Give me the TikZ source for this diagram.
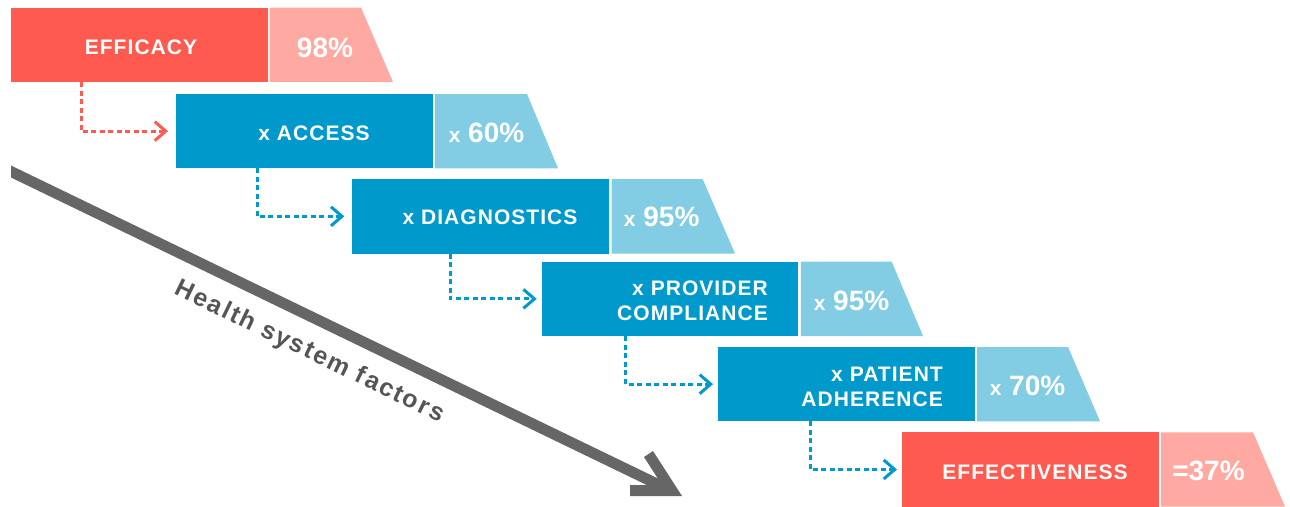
\documentclass[tikz,border=0pt]{standalone}
\usepackage{fontspec}
\setmainfont{Liberation Sans}
\newfontfamily\lblfont{Liberation Sans}[LetterSpace=5]
\newfontfamily\pctfont{Liberation Sans}
\newfontfamily\hsfont{Liberation Sans}[LetterSpace=8]
\usetikzlibrary{arrows.meta}
\definecolor{cred}{HTML}{FF5A4F}
\definecolor{cpink}{HTML}{FFA9A3}
\definecolor{cblue}{HTML}{0099CC}
\definecolor{clblue}{HTML}{82CCE4}
\definecolor{cgray}{HTML}{666666}
\definecolor{ctext}{HTML}{555555}
\tikzset{
  box/.style={anchor=north west, minimum width=256.5pt, minimum height=74.3pt, inner sep=0pt, outer sep=0pt},
  redbox/.style={box, fill=cred},
  bluebox/.style={box, fill=cblue},
  lbl/.style={text=white, font=\lblfont\bfseries\fontsize{21}{25}\selectfont, inner sep=0pt},
  pct/.style={text=white, font=\pctfont\bfseries\fontsize{28}{28}\selectfont, inner sep=0pt},
  flow/.style={dash pattern=on 5pt off 3.5pt, line width=3pt, -{Straight Barb[length=11pt,width=19pt]}},
}
\newcommand{\smx}{{\fontsize{21}{21}\selectfont x}}
\begin{document}
\begin{tikzpicture}[x=1pt,y=-1pt]
\useasboundingbox (0,0) rectangle (1290,506);
% big gray arrow
\fill[cgray] (11,165.5) -- (662,480.4) -- (662,492.4) -- (11,177.5) -- cycle;
\fill[cgray] (682,496) -- (630,496) -- (630,485) -- (662,485) -- (644,457) -- (653,451) -- cycle;
\node[rotate=-25.8, anchor=base, text=ctext, inner sep=0pt, font=\hsfont\bfseries\fontsize{25}{25}\selectfont] (hs) at (306.5,358) {Health system factors};

% row 1
\node[redbox] (r1) at (11,7.7) {};
\fill[cpink] (269.5,7.7) -- (361,7.7) -- (393,82) -- (269.5,82) -- cycle;
\node[lbl] (l1) at (141,47.5) {EFFICACY};
\node[pct] (p1) at (325,47.5) {98\%};

% row 2
\node[bluebox] (r2) at (176,94) {};
\fill[clblue] (435,94) -- (527,94) -- (558,168.3) -- (435,168.3) -- cycle;
\node[lbl] (l2) at (314,133) {x ACCESS};
\node[pct] (p2) at (486.5,133) {\smx~60\%};

% row 3
\node[bluebox] (r3) at (352.3,179.2) {};
\fill[clblue] (611.5,179.2) -- (702.7,179.2) -- (735,253.5) -- (611.5,253.5) -- cycle;
\node[lbl] (l3) at (490,217.5) {x DIAGNOSTICS};
\node[pct] (p3) at (661.7,217.3) {\smx~95\%};

% row 4
\node[bluebox] (r4) at (541.7,261.7) {};
\fill[clblue] (800.8,261.7) -- (891.7,261.7) -- (923,336) -- (800.8,336) -- cycle;
\node[lbl, anchor=east, align=right] (l4) at (768,300.7) {x PROVIDER\\COMPLIANCE};
\node[pct] (p4) at (851.5,301.3) {\smx~95\%};

% row 5
\node[bluebox] (r5) at (718,347) {};
\fill[clblue] (977,347) -- (1068,347) -- (1100,421.3) -- (977,421.3) -- cycle;
\node[lbl, anchor=east, align=right] (l5) at (943,386.7) {x PATIENT\\ADHERENCE};
\node[pct] (p5) at (1027.5,385.8) {\smx~70\%};

% row 6
\node[redbox] (r6) at (902,432.3) {};
\fill[cpink] (1161,432.3) -- (1253,432.3) -- (1285,506.6) -- (1161,506.6) -- cycle;
\node[lbl] (l6) at (1035,471.8) {EFFECTIVENESS};
\node[pct] (p6) at (1208.5,471) {=37\%};

% dashed connectors
\draw[flow, cred] ([xshift=70pt]r1.south west) |- ([xshift=-8pt]r2.west);
\draw[flow, cblue] ([xshift=81pt]r2.south west) |- ([xshift=-8pt]r3.west);
\draw[flow, cblue] ([xshift=97.7pt]r3.south west) |- ([xshift=-5pt]r4.west);
\draw[flow, cblue] ([xshift=84pt]r4.south west) |- ([xshift=-5pt]r5.west);
\draw[flow, cblue] ([xshift=92pt]r5.south west) |- ([xshift=-5pt]r6.west);
\end{tikzpicture}
\end{document}
